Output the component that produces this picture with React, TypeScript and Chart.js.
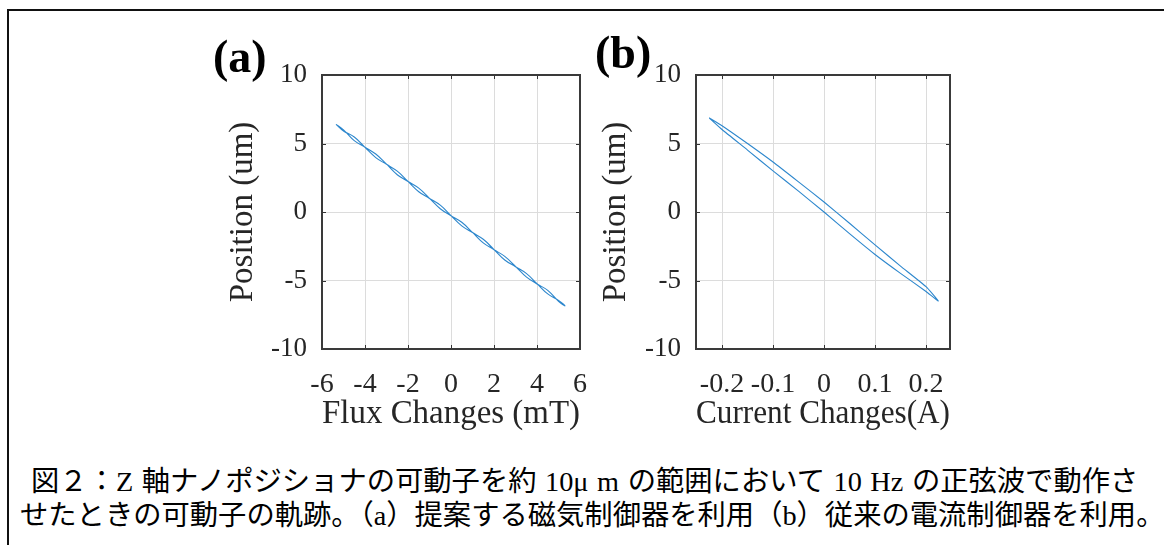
import React, { useEffect, useRef } from "react";
import { Chart, registerables } from "chart.js";

Chart.register(...registerables);

// ---------- data ----------
const yTicks = [-10, -5, 0, 5, 10];
const xTicksA = [-6, -4, -2, 0, 2, 4, 6];
const xTicksB = [-0.2, -0.1, 0, 0.1, 0.2];

// (a) magnetic flux controller: outward branch and return branch
const fluxOut = [-5.35, -5.0, -4.5, -4.0, -3.5, -3.0, -2.5, -2.0, -1.5, -1.0, -0.5, 0, 0.5, 1.0, 1.5, 2.0, 2.5, 3.0, 3.5, 4.0, 4.5, 5.0, 5.3];
const posOutA = [6.40, 5.91, 5.47, 4.72, 3.97, 3.48, 2.98, 2.23, 1.48, 0.99, 0.50, -0.26, -1.01, -1.50, -1.99, -2.74, -3.50, -3.99, -4.48, -5.23, -5.98, -6.45, -6.85];
const fluxBack = [5.0, 4.5, 4.0, 3.5, 3.0, 2.5, 2.0, 1.5, 1.0, 0.5, 0, -0.5, -1.0, -1.5, -2.0, -2.5, -3.0, -3.5, -4.0, -4.5, -5.0, -5.35];
const posBackA = [-6.52, -5.72, -5.25, -4.74, -3.97, -3.24, -2.75, -2.25, -1.49, -0.75, -0.27, 0.24, 1.00, 1.74, 2.22, 2.72, 3.49, 4.23, 4.73, 5.21, 6.00, 6.40];

// (b) conventional current controller: hysteresis loop
const currentOut = [-0.225, -0.2, -0.15, -0.1, -0.05, 0, 0.05, 0.1, 0.15, 0.2, 0.224];
const posOutB = [6.86, 6.30, 5.00, 3.65, 2.20, 0.73, -0.82, -2.40, -3.95, -5.45, -6.50];
const currentBack = [0.2, 0.15, 0.1, 0.05, 0, -0.05, -0.1, -0.15, -0.2, -0.225];
const posBackB = [-5.80, -4.48, -3.10, -1.58, 0.0, 1.52, 3.00, 4.52, 6.02, 6.86];

const captionLine1 = "図２：Z 軸ナノポジショナの可動子を約 10μ m の範囲において 10 Hz の正弦波で動作さ";
const captionLine2 = "せたときの可動子の軌跡。（a）提案する磁気制御器を利用（b）従来の電流制御器を利用。";

// ---------- styling ----------
const SERIF = "'Liberation Serif', 'Times New Roman', serif";
const TEXT = "#262626";
const LINE = "rgb(45,135,205)";

const boxPlugin = {
  id: "matlabBox",
  afterDraw(chart: any) {
    const { ctx, chartArea } = chart;
    const { left, right, top, bottom } = chartArea;
    const xs = chart.scales.x;
    const ys = chart.scales.y;
    ctx.save();
    ctx.strokeStyle = "#333";
    ctx.lineWidth = 1;
    const tl = 4;
    ctx.beginPath();
    xs.ticks.forEach((t: any) => {
      const px = Math.round(xs.getPixelForValue(t.value)) + 0.5;
      ctx.moveTo(px, bottom);
      ctx.lineTo(px, bottom - tl);
      ctx.moveTo(px, top);
      ctx.lineTo(px, top + tl);
    });
    ys.ticks.forEach((t: any) => {
      const py = Math.round(ys.getPixelForValue(t.value)) + 0.5;
      ctx.moveTo(left, py);
      ctx.lineTo(left + tl, py);
      ctx.moveTo(right, py);
      ctx.lineTo(right - tl, py);
    });
    ctx.stroke();
    ctx.lineWidth = 2;
    ctx.strokeStyle = "#3a3a3a";
    ctx.strokeRect(left, top, right - left, bottom - top);
    ctx.restore();
  },
};

const CANVAS_TOP = 43;
const CANVAS_H = 396;
const PAD_TOP = 32;
const PAD_RIGHT = 40;

function makeConfig(
  xs: number[],
  ys: number[],
  xMin: number,
  xMax: number,
  xTicks: number[],
  xTitle: string,
  yAxisWidth: number,
  tension: number
): any {
  const pts = xs.map((x, i) => ({ x, y: ys[i] }));
  return {
    type: "scatter",
    data: {
      datasets: [
        {
          data: pts,
          showLine: true,
          borderColor: LINE,
          borderWidth: 1.1,
          pointRadius: 0,
          tension,
          fill: false,
        },
      ],
    },
    plugins: [boxPlugin],
    options: {
      animation: false,
      responsive: false,
      maintainAspectRatio: false,
      devicePixelRatio: 1,
      layout: { padding: { top: PAD_TOP, right: PAD_RIGHT, left: 0, bottom: 0 } },
      plugins: { legend: { display: false }, tooltip: { enabled: false } },
      scales: {
        x: {
          type: "linear",
          min: xMin,
          max: xMax,
          afterBuildTicks: (s: any) => {
            s.ticks = xTicks.map((v) => ({ value: v }));
          },
          afterFit: (s: any) => {
            s.height = 90;
          },
          grid: { color: "#dcdcdc", lineWidth: 1, drawTicks: false },
          border: { display: false },
          ticks: {
            autoSkip: false,
            maxRotation: 0,
            padding: 19,
            color: TEXT,
            font: { family: SERIF, size: 28 },
            callback: (v: any) => String(v),
          },
          title: {
            display: true,
            text: xTitle,
            color: TEXT,
            font: { family: SERIF, size: 33 },
            padding: { top: 0, bottom: 5 },
          },
        },
        y: {
          type: "linear",
          min: -10,
          max: 10,
          afterBuildTicks: (s: any) => {
            s.ticks = yTicks.map((v) => ({ value: v }));
          },
          afterFit: (s: any) => {
            s.width = yAxisWidth;
          },
          grid: { color: "#dcdcdc", lineWidth: 1, drawTicks: false },
          border: { display: false },
          ticks: {
            padding: 15,
            color: TEXT,
            font: { family: SERIF, size: 27 },
            callback: (v: any) => String(v),
          },
          title: {
            display: true,
            text: "Position (um)",
            color: TEXT,
            font: { family: SERIF, size: 33 },
            padding: { top: 0, bottom: 0 },
          },
        },
      },
    },
  };
}

function Panel(props: { left: number; width: number; config: any }) {
  const ref = useRef<HTMLCanvasElement>(null);
  useEffect(() => {
    if (!ref.current) return;
    const chart = new Chart(ref.current, props.config);
    return () => chart.destroy();
  }, []);
  return (
    <canvas
      ref={ref}
      width={props.width}
      height={CANVAS_H}
      style={{ position: "absolute", left: props.left, top: CANVAS_TOP, width: props.width, height: CANVAS_H }}
    />
  );
}

export default function App() {
  const cfgA = makeConfig(
    [...fluxOut, ...fluxBack],
    [...posOutA, ...posBackA],
    -6,
    6,
    xTicksA,
    "Flux Changes (mT)",
    98,
    0.4
  );
  const cfgB = makeConfig(
    [...currentOut, ...currentBack],
    [...posOutB, ...posBackB],
    -0.251,
    0.247,
    xTicksB,
    "Current Changes(A)",
    99,
    0.15
  );
  const capStyle: React.CSSProperties = {
    position: "absolute",
    whiteSpace: "nowrap",
    fontFamily: "'Liberation Serif', 'Noto Sans CJK JP', sans-serif",
    fontSize: 28.3,
    lineHeight: "28px",
    color: "#000",
  };
  const labelStyle: React.CSSProperties = {
    position: "absolute",
    fontFamily: SERIF,
    fontWeight: "bold",
    fontSize: 46,
    lineHeight: "46px",
    color: "#000",
  };
  return (
    <div style={{ position: "absolute", left: 0, top: 0, width: 1164, height: 545, overflow: "hidden", background: "#fff" }}>
      <div
        style={{
          position: "absolute",
          left: 7,
          top: 9,
          width: 1200,
          height: 600,
          borderTop: "2px solid #111",
          borderLeft: "2px solid #111",
        }}
      />
      <Panel left={224} width={580 + PAD_RIGHT - 224} config={cfgA} />
      <Panel left={597} width={950 + PAD_RIGHT - 597} config={cfgB} />
      <div style={{ ...labelStyle, left: 213, top: 34 }}>(a)</div>
      <div style={{ ...labelStyle, left: 595, top: 30 }}>(b)</div>
      <div style={{ ...capStyle, left: 31, top: 468, wordSpacing: 1.5 }}>{captionLine1}</div>
      <div style={{ ...capStyle, left: 20, top: 502 }}>{captionLine2}</div>
    </div>
  );
}
